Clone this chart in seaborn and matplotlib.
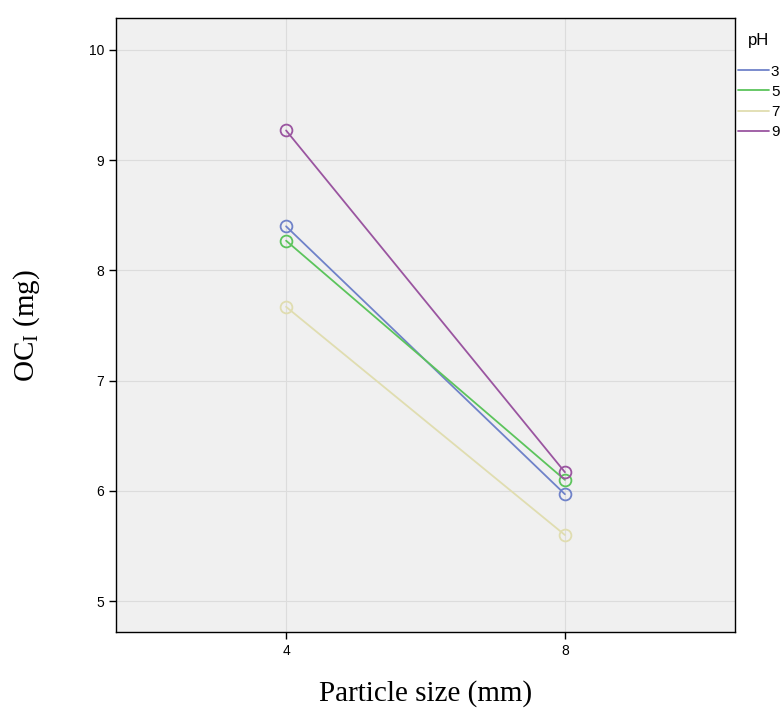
import pandas as pd
import seaborn as sns
import matplotlib.pyplot as plt

# valeurs
particle_size = [4, 8]
ph_levels = ['3', '5', '7', '9']
oc_ph3 = [8.40, 5.97]
oc_ph5 = [8.27, 6.10]
oc_ph7 = [7.67, 5.60]
oc_ph9 = [9.27, 6.17]

colors = {'3': '#6f82c9', '5': '#5cc45c', '7': '#e0ddb0', '9': '#9a55a0'}

rows = []
for ph, vals in zip(ph_levels, [oc_ph3, oc_ph5, oc_ph7, oc_ph9]):
    for s, v in zip(particle_size, vals):
        rows.append({'size': s, 'OC': v, 'pH': ph})
df = pd.DataFrame(rows)

sns.set_style('white')
plt.rcParams['font.family'] = ['Liberation Sans', 'DejaVu Sans']
plt.rcParams['text.color'] = 'black'
plt.rcParams['axes.labelcolor'] = 'black'

fig = plt.figure(figsize=(7.81, 7.10), dpi=100)
ax = fig.add_axes([116 / 781, 78 / 710, 619 / 781, 614 / 710])
ax.set_facecolor('#f0f0f0')

sns.lineplot(data=df, x='size', y='OC', hue='pH', hue_order=ph_levels,
             palette=colors, marker='o', markersize=8.5, linewidth=1.3,
             ax=ax, legend=True)
for line in ax.lines:
    line.set_markerfacecolor('none')
    line.set_markeredgecolor(line.get_color())
    line.set_markeredgewidth(1.3)

ax.set_xlim(1.56, 10.44)
ax.set_ylim(4.72, 10.29)
ax.set_xticks(particle_size)
ax.set_yticks([5, 6, 7, 8, 9, 10])
ax.grid(True, color='#dcdcdc', linewidth=0.8)
ax.set_axisbelow(True)
for sp in ax.spines.values():
    sp.set_color('black')
    sp.set_linewidth(1.0)
ax.tick_params(axis='both', direction='out', length=5, width=1, colors='black',
               labelsize=10, left=True, bottom=True)

ax.set_xlabel('Particle size (mm)', family='Liberation Serif', fontsize=21, labelpad=16)
ax.set_ylabel(r'OC$_\mathregular{I}$ (mg)', family='Liberation Serif', fontsize=21, labelpad=34)

handles, labels = ax.get_legend_handles_labels()
for h in handles:
    h.set_marker('')
leg = fig.legend(handles, labels, title='pH', loc='upper left',
                 bbox_to_anchor=(738 / 781, 1 - 33 / 710), bbox_transform=fig.transFigure,
                 frameon=False, fontsize=11, title_fontsize=12,
                 handlelength=2.0, handletextpad=0.15, labelspacing=0.4,
                 borderpad=0, borderaxespad=0)
leg._legend_box.sep = 12
ax.get_legend().remove()

fig.savefig('out.png', dpi=100, facecolor='white')
